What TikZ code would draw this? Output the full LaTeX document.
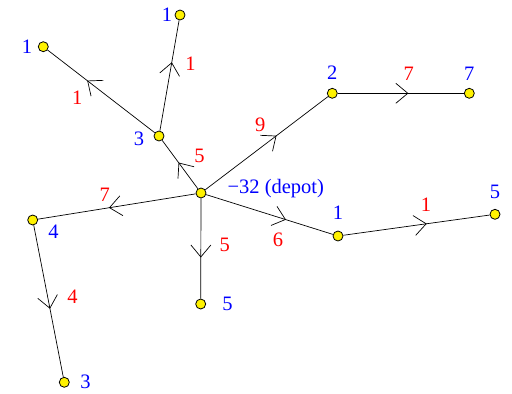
\documentclass[tikz,border=0pt]{standalone}
\usepackage{fontspec}
\setmainfont{Liberation Serif}
\usetikzlibrary{arrows.meta, decorations.markings}

\begin{document}
\begin{tikzpicture}[
    x=1pt, y=-1pt,
    font=\fontsize{20.5}{24}\selectfont,
    stop/.style={
        circle,
        draw,
        fill=yellow,
        minimum size=10pt,
        inner sep=0pt,
        line width=0.8pt
    },
    demand/.style={text=blue, inner sep=0pt},
    cost/.style={text=red, inner sep=0pt},
    flow/.style={
        line width=0.7pt,
        postaction={decorate},
        decoration={markings,
            mark=at position #1 with {\arrow{Straight Barb[length=12pt, width=20pt]}}}
    },
    flow/.default=0.58
]

\useasboundingbox (0,0) rectangle (512,394);

\node[stop, label={[demand, label distance=21pt, yshift=4.5pt]right:−32 (depot)}] (depot) at (201,193) {};
\node[stop, label={[demand, label distance=9.3pt, yshift=-2.5pt]left:3}] (c3) at (159,136) {};
\node[stop, label={[demand, label distance=5.7pt]left:1}] (c1a) at (43.3,46.7) {};
\node[stop, label={[demand, label distance=2.3pt]left:1}] (c1b) at (180,15) {};
\node[stop, label={[demand, label distance=8.2pt]above:2}] (c2) at (332.3,93.3) {};
\node[stop, label={[demand, label distance=7.7pt]above:7}] (c7) at (469.3,93.3) {};
\node[stop, label={[demand, label distance=11.4pt]above:1}] (c1c) at (338,236) {};
\node[stop, label={[demand, label distance=9.7pt]above:5}] (c5r) at (495,214.3) {};
\node[stop, label={[demand, label distance=10.1pt, yshift=-11.5pt]right:4}] (c4) at (32.7,220) {};
\node[stop, label={[demand, label distance=10.5pt]right:3}] (c3b) at (64.3,382.3) {};
\node[stop, label={[demand, label distance=16.1pt]right:5}] (c5b) at (200.7,304) {};

\draw[flow=0.54] (depot) -- node[cost, xshift=19.5pt, yshift=8.5pt] {5} (c3);
\draw[flow=0.63] (c3) -- node[cost, xshift=-24pt, yshift=-6.5pt] {1} (c1a);
\draw[flow=0.62] (c3) -- node[cost, xshift=21pt, yshift=11.5pt] {1} (c1b);
\draw[flow=0.58] (depot) -- node[cost, xshift=-6.5pt, yshift=18.5pt] {9} (c2);
\draw[flow=0.56] (c2) -- node[cost, xshift=8pt, yshift=20pt] {7} (c7);
\draw[flow=0.63] (depot) -- node[cost, xshift=8.5pt, yshift=-25.5pt] {6} (c1c);
\draw[flow=0.57] (c1c) -- node[cost, xshift=9.5pt, yshift=20.5pt] {1} (c5r);
\draw[flow=0.55] (depot) -- node[cost, xshift=-12pt, yshift=11.5pt] {7} (c4);
\draw[flow=0.55] (c4) -- node[cost, xshift=24pt, yshift=4.5pt] {4} (c3b);
\draw[flow=0.59] (depot) -- node[cost, xshift=24pt, yshift=3.5pt] {5} (c5b);

\end{tikzpicture}
\end{document}
